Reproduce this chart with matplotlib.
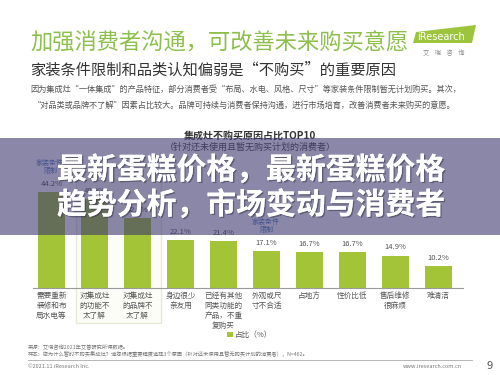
import matplotlib.pyplot as plt
import matplotlib.patches as mpatches
import matplotlib.patheffects as pe
from matplotlib.lines import Line2D

plt.rcParams['font.family'] = ['Noto Sans CJK SC', 'DejaVu Sans']

# data
categories = ['需要重新\n装修和布\n局水电等', '对集成灶\n的功能不\n太了解', '对集成灶\n的品牌不\n太了解',
              '身边很少\n亲友用', '已经有其他\n同类功能的\n产品，不重\n复购买', '外观或尺\n寸不合适',
              '占地方', '性价比低', '售后维修\n很麻烦', '难清洁']
values = [44.2, 40.9, 32.3, 22.1, 21.4, 17.1, 16.7, 16.7, 14.9, 10.2]
series_name = '占比（%）'

title = '加强消费者沟通，可改善未来购买意愿'
subtitle = '家装条件限制和品类认知偏弱是“不购买”的重要原因'
body1 = '因为集成灶“一体集成”的产品特征，部分消费者受“布局、水电、风格、尺寸”等家装条件限制暂无计划购买。其次，'
body2 = '“对品类或品牌不了解”因素占比较大。品牌可持续与消费者保持沟通，进行市场培育，改善消费者未来购买的意愿。'
chart_title = '集成灶不购买原因占比TOP10'
chart_sub = '（针对还未使用且暂无购买计划的消费者）'
banner = ['最新蛋糕价格，最新蛋糕价格', '趋势分析，市场变动与消费者']
source1 = '来源：艾瑞咨询2021年艾普研究所得数据。'
source2 = '样本：您为什么暂时不购买集成灶？请您根据重要程度选择3个原因（针对还未使用且暂无购买计划的消费者），N=462。'

W, H = 500, 375
def fx(px): return px / W
def fy(py): return 1 - py / H

green = '#a3c437'
fig = plt.figure(figsize=(5, 3.75), dpi=100)
fig.patch.set_facecolor('white')

# header
fig.text(fx(30), fy(43), title, fontsize=16, color='#8cbf4c', va='center')
fig.text(fx(30), fy(70), subtitle, fontsize=11, color='#333333', va='center')
fig.text(fx(30), fy(89), body1, fontsize=5.9, color='#555555', va='center')
fig.text(fx(33), fy(105), body2, fontsize=5.9, color='#555555', va='center')

# logo
logo = mpatches.Polygon([(fx(413), fy(43)), (fx(472), fy(43)), (fx(476), fy(25)), (fx(416), fy(32))],
                        closed=True, transform=fig.transFigure, facecolor='#9cc43c', edgecolor='none')
fig.add_artist(logo)
fig.text(fx(417), fy(37), 'iResearch', fontsize=7, color='white', va='center', family='DejaVu Sans')
fig.text(fx(444), fy(53), '艾    瑞    咨    询', fontsize=4.5, color='#888888', va='center', ha='center')

# chart
ax = fig.add_axes([fx(33), fy(288), fx(463) - fx(33), (288 - 150) / H])
x = list(range(len(values)))
bars = ax.bar(x, values, width=0.62, color=green, label=series_name, zorder=2)
for i, v in zip(x, values):
    ax.text(i, v + 3.7, f'{v}%', ha='center', va='center', fontsize=5.5, color='#555555')
ax.set_xlim(-0.43, 9.57)
ax.set_ylim(0, 63.3)
ax.set_facecolor('none')
for s in ['top', 'right', 'left']:
    ax.spines[s].set_visible(False)
ax.spines['bottom'].set_color('#9a9a9a')
ax.spines['bottom'].set_linewidth(0.8)
ax.set_yticks([])
ax.set_xticks(x)
ax.set_xticklabels(categories, fontsize=5.5, color='#555555', linespacing=1.3, va='top')
ax.tick_params(axis='x', length=0, pad=3)

# highlight box & notes
box = mpatches.Rectangle((fx(76), fy(323)), fx(161) - fx(76), (323 - 180) / H, transform=fig.transFigure,
                         facecolor='#fdfdf8', edgecolor='#e6e9d4', linewidth=1, zorder=1, clip_on=False)
ax.add_patch(box)
fig.text(fx(50), fy(167), '家装条件\n限制', fontsize=5, color='#4f7fbf', ha='center', va='center', linespacing=1.1)
fig.text(fx(266), fy(226), '家装条件\n限制', fontsize=5, color='#4f7fbf', ha='center', va='center', linespacing=1.1)

fig.text(fx(250), fy(136), chart_title, fontsize=7.2, weight='bold', color='#333333', ha='center', va='center')
fig.text(fx(250), fy(147), chart_sub, fontsize=6.5, color='#444444', ha='center', va='center')

fig.legend(handles=[bars], labels=[series_name], loc='center', bbox_to_anchor=(fx(250), fy(335)),
           frameon=False, fontsize=5.5, handlelength=0.7, handleheight=0.7, handletextpad=0.3,
           labelcolor='#555555')

# footer
fig.text(fx(28), fy(347), source1, fontsize=3.8, color='#777777', va='center')
fig.text(fx(28), fy(353), source2, fontsize=3.8, color='#777777', va='center')
fig.add_artist(Line2D([fx(28), fx(472)], [fy(360), fy(360)], color='#aaaaaa', linewidth=0.6))
fig.text(fx(28), fy(367), '©2021.11 iResearch Inc.', fontsize=4, color='#777777', va='center')
fig.text(fx(462), fy(367), 'www.iresearch.com.cn', fontsize=4, color='#777777', va='center', ha='right')
fig.text(fx(490), fy(366), '9', fontsize=8, color='#555555', va='center', ha='center')

# overlay banner
band = mpatches.Rectangle((0, fy(235)), 1, (235 - 138) / H, transform=fig.transFigure,
                          facecolor='#3c376e', alpha=0.6, edgecolor='none', zorder=10)
fig.add_artist(band)
for txt, yy in zip(banner, [170, 205]):
    fig.text(fx(57), fy(yy), txt, fontsize=21.5, weight='bold', color='white', va='center', zorder=11,
             path_effects=[pe.withSimplePatchShadow(offset=(1, -1), shadow_rgbFace='#333344', alpha=0.5), pe.Normal()])

fig.savefig('out.png', dpi=100)
